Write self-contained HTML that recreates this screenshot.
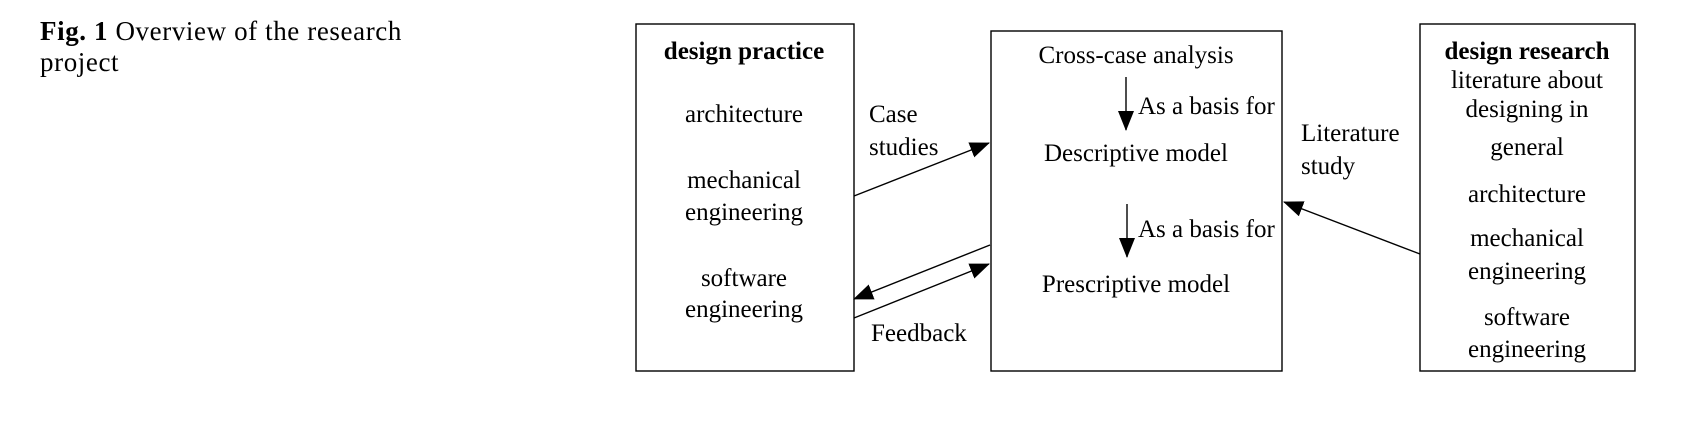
<!DOCTYPE html>
<html><head><meta charset="utf-8"><style>
html,body{margin:0;padding:0;background:#fff;}
body{width:1706px;height:446px;position:relative;overflow:hidden;font-family:"Liberation Serif",serif;color:#000;}
.cap{position:absolute;left:40px;top:16px;font-size:27px;line-height:31px;letter-spacing:0.6px;}
svg{position:absolute;left:0;top:0;}
svg text{font-family:"Liberation Serif",serif;font-size:25px;}
</style></head><body>
<div class="cap"><b>Fig. 1</b>&nbsp;Overview of the research<br>project</div>
<svg width="1706" height="446" viewBox="0 0 1706 446">
<defs><marker id="b" markerWidth="20" markerHeight="16" refX="19" refY="8" orient="auto" markerUnits="userSpaceOnUse"><path d="M0,0 L20,8 L0,16 z"/></marker></defs>
<g fill="none" stroke="#000" stroke-width="1.4">
<rect x="636" y="24" width="218" height="347"/>
<rect x="991" y="31" width="291" height="340"/>
<rect x="1420" y="24" width="215" height="347"/>
<line x1="854" y1="196" x2="989" y2="143" marker-end="url(#b)"/>
<line x1="990" y1="245" x2="854" y2="299" marker-end="url(#b)"/>
<line x1="854" y1="318" x2="989" y2="264" marker-end="url(#b)"/>
<line x1="1420" y1="254" x2="1284" y2="202" marker-end="url(#b)"/>
<line x1="1126" y1="77" x2="1126" y2="130" marker-end="url(#b)"/>
<line x1="1127" y1="204" x2="1127" y2="257" marker-end="url(#b)"/>
</g>
<g text-anchor="middle">
<text x="744" y="59" font-weight="bold">design practice</text>
<text x="744" y="122">architecture</text>
<text x="744" y="188">mechanical</text>
<text x="744" y="220">engineering</text>
<text x="744" y="286">software</text>
<text x="744" y="317">engineering</text>
<text x="1136" y="63">Cross-case analysis</text>
<text x="1136" y="161">Descriptive model</text>
<text x="1136" y="292">Prescriptive model</text>
<text x="1527" y="59" font-weight="bold">design research</text>
<text x="1527" y="88" font-size="21">literature about</text>
<text x="1527" y="117" font-size="21">designing in</text>
<text x="1527" y="155">general</text>
<text x="1527" y="202">architecture</text>
<text x="1527" y="246">mechanical</text>
<text x="1527" y="279">engineering</text>
<text x="1527" y="325">software</text>
<text x="1527" y="357">engineering</text>
</g>
<text x="1138" y="114" font-size="20">As a basis for</text>
<text x="1138" y="237" font-size="20">As a basis for</text>
<text x="869" y="122">Case</text>
<text x="869" y="155">studies</text>
<text x="1301" y="141">Literature</text>
<text x="1301" y="174">study</text>
<text x="871" y="341">Feedback</text>
</svg>
</body></html>
